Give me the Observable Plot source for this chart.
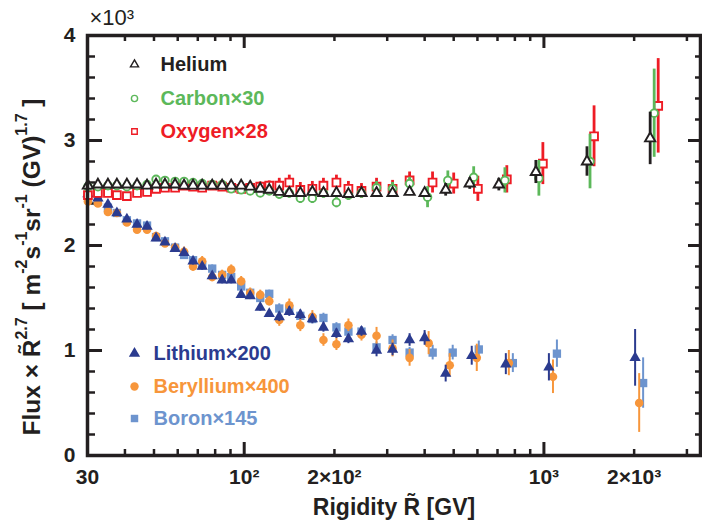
<!DOCTYPE html>
<html><head><meta charset="utf-8">
<script src="https://cdn.jsdelivr.net/npm/d3@7"></script>
<script src="https://cdn.jsdelivr.net/npm/@observablehq/plot@0.6"></script>
<style>body{margin:0;background:#fff}#chart{width:702px;height:524px}</style>
</head><body><div id="chart"></div>
<script>
// ---- data (flux x R^2.7, in units of 10^3) ----
const heR = [30.1,32.5,35.1,37.6,40.6,43.9,47.4,50.8,54.4,58.8,63.0,67.5,72.4,78.2,84.4,90.5,97.7,104.7,113.1,121.2,130.9,141.4,153.9,168.8,183.8,203.1,222.7,246.2,276.4,312.6,356.3,399.9,470.1,565.6,707.2,940,1392,2262];
const heV = [2.57,2.58,2.58,2.58,2.58,2.58,2.57,2.58,2.58,2.58,2.57,2.57,2.57,2.57,2.57,2.57,2.57,2.56,2.54,2.53,2.51,2.50,2.50,2.51,2.50,2.50,2.49,2.50,2.50,2.50,2.51,2.50,2.53,2.59,2.58,2.70,2.80,3.02];
const heE = [0.02,0.02,0.02,0.02,0.02,0.02,0.02,0.02,0.02,0.02,0.025,0.025,0.025,0.025,0.025,0.025,0.025,0.025,0.025,0.025,0.025,0.025,0.03,0.03,0.03,0.03,0.03,0.03,0.035,0.035,0.035,0.04,0.06,0.055,0.06,0.11,0.14,0.25];

const cR = [30.1,32.5,35.1,37.6,40.6,43.9,47.4,50.8,54.4,58.8,63.0,67.5,72.4,78.2,84.4,90.5,97.7,104.7,113.1,121.2,130.9,141.4,153.9,168.8,183.8,203.1,222.7,246.2,276.4,312.6,356.3,409,478,583,741,962,1425,2333];
const cV = [2.56,2.56,2.57,2.57,2.56,2.57,2.58,2.63,2.62,2.61,2.61,2.60,2.59,2.58,2.58,2.54,2.53,2.52,2.50,2.52,2.49,2.50,2.45,2.45,2.50,2.41,2.48,2.50,2.55,2.54,2.59,2.46,2.62,2.65,2.62,2.64,2.80,3.26];
const cE = [0.03,0.03,0.03,0.03,0.03,0.03,0.03,0.03,0.03,0.03,0.035,0.035,0.035,0.035,0.035,0.035,0.035,0.035,0.035,0.035,0.05,0.05,0.05,0.05,0.05,0.05,0.05,0.05,0.06,0.06,0.06,0.10,0.09,0.10,0.12,0.17,0.26,0.42];

const oR = [30.1,32.5,35.1,37.6,40.6,43.9,47.4,50.8,54.4,58.8,63.0,67.5,72.4,78.2,84.4,90.5,97.7,104.7,113.1,121.2,130.9,141.4,153.9,168.8,183.8,203.1,222.7,246.2,276.4,312.6,356.3,425,500,602,752,992,1470,2406];
const oV = [2.48,2.50,2.50,2.48,2.47,2.50,2.51,2.54,2.55,2.55,2.57,2.56,2.55,2.57,2.56,2.55,2.54,2.55,2.56,2.57,2.57,2.60,2.53,2.54,2.57,2.60,2.54,2.52,2.56,2.54,2.62,2.60,2.59,2.54,2.63,2.78,3.04,3.33];
const oE = [0.035,0.035,0.035,0.035,0.035,0.035,0.035,0.035,0.035,0.035,0.045,0.045,0.045,0.045,0.045,0.045,0.045,0.045,0.045,0.045,0.07,0.07,0.07,0.07,0.07,0.07,0.07,0.07,0.08,0.08,0.08,0.10,0.10,0.12,0.13,0.20,0.29,0.45];

const liR = [30.1,32.5,35.1,37.6,40.6,43.9,47.4,50.8,54.4,58.8,63.0,67.5,72.4,78.2,84.4,90.5,97.7,104.7,113.1,121.2,130.9,141.4,153.9,168.8,183.8,203.1,222.7,246.2,276.4,312.6,356.3,399.9,470.1,574.3,746.3,1039,2015];
const liV = [2.49,2.45,2.39,2.31,2.25,2.20,2.18,2.07,2.03,1.97,1.93,1.85,1.80,1.71,1.67,1.67,1.53,1.52,1.41,1.35,1.32,1.37,1.34,1.30,1.22,1.16,1.11,1.18,1.00,1.01,1.10,1.12,0.78,0.95,0.87,0.84,0.93];
const liE = [0.03,0.03,0.03,0.03,0.03,0.03,0.03,0.03,0.03,0.03,0.035,0.035,0.035,0.035,0.035,0.035,0.035,0.035,0.035,0.035,0.045,0.045,0.045,0.045,0.045,0.045,0.045,0.045,0.06,0.06,0.06,0.07,0.08,0.09,0.10,0.13,0.27];

const beR = [30.1,32.5,35.1,37.6,40.6,43.9,47.4,50.8,54.4,58.8,63.0,67.5,72.4,78.2,84.4,90.5,97.7,104.7,113.1,121.2,130.9,141.4,153.9,168.8,183.8,203.1,222.7,246.2,276.4,312.6,356.3,412.4,484.9,597,763.7,1072,2079];
const beV = [2.42,2.40,2.32,2.31,2.22,2.15,2.15,2.09,2.02,1.98,1.94,1.80,1.85,1.70,1.72,1.77,1.66,1.55,1.53,1.47,1.29,1.43,1.24,1.32,1.10,1.06,1.24,1.15,1.14,1.02,0.93,1.07,0.86,0.93,0.88,0.75,0.50];
const beE = [0.035,0.035,0.035,0.035,0.035,0.035,0.035,0.035,0.035,0.035,0.045,0.045,0.045,0.045,0.045,0.045,0.045,0.045,0.045,0.045,0.06,0.06,0.06,0.06,0.06,0.06,0.06,0.06,0.08,0.08,0.08,0.11,0.11,0.13,0.12,0.16,0.28];

const bR = [30.1,32.5,35.1,37.6,40.6,43.9,47.4,50.8,54.4,58.8,63.0,67.5,72.4,78.2,84.4,90.5,97.7,104.7,113.1,121.2,130.9,141.4,153.9,168.8,183.8,203.1,222.7,246.2,276.4,312.6,356.3,425.4,496.2,606.3,787.6,1105,2143];
const bV = [2.48,2.42,2.36,2.31,2.24,2.21,2.19,2.08,2.04,1.98,1.91,1.86,1.81,1.78,1.72,1.70,1.61,1.55,1.50,1.54,1.40,1.39,1.33,1.30,1.31,1.22,1.18,1.18,1.03,1.10,0.98,0.98,0.98,1.01,0.88,0.97,0.69];
const bE = [0.03,0.03,0.03,0.03,0.03,0.03,0.03,0.03,0.03,0.03,0.035,0.035,0.035,0.035,0.035,0.035,0.035,0.035,0.035,0.035,0.045,0.045,0.045,0.045,0.045,0.045,0.045,0.045,0.05,0.05,0.05,0.07,0.07,0.08,0.09,0.13,0.24];

// ---- ticks & labels ----
const xLabelValues = [30, 100, 200, 1000, 2000];
const xLabelTexts = ["30", "10²", "2×10²", "10³", "2×10³"];
const xMajor = [100, 1000];
const xMinor = [30,40,50,60,70,80,90,200,300,400,500,600,700,800,900,2000,3000];
const yMajor = [0, 1, 2, 3, 4];
const yMinor = [0.2,0.4,0.6,0.8,1.2,1.4,1.6,1.8,2.2,2.4,2.6,2.8,3.2,3.4,3.6,3.8];
const legendTop = ["Helium", "Carbon×30", "Oxygen×28"];
const legendBottom = ["Lithium×200", "Beryllium×400", "Boron×145"];

// ---- styles ----
const INK = "#231f20", GREEN = "#5cb85a", RED = "#ee1c25", DBLUE = "#2b3b8f", ORANGE = "#f7963b", LBLUE = "#6d94ce";
const W = 702, H = 524, ML = 87, MR = 2, MT = 35, MB = 69;
const FH = H - MT - MB, FW = W - ML - MR;
const FONT = "Liberation Sans, Arial, Helvetica, sans-serif";

function series(R, V, E, color, symbol, r, hollow, barW) {
  const rows = R.map((x, i) => ({x, y: V[i], lo: V[i] - E[i], hi: V[i] + E[i]}));
  return [
    Plot.ruleX(rows, {x: "x", y1: "lo", y2: "hi", stroke: color, strokeWidth: barW}),
    Plot.dot(rows, {x: "x", y: "y", symbol, r,
      fill: hollow ? "white" : color, stroke: hollow ? color : "none", strokeWidth: hollow ? 1.9 : 0})
  ];
}

const legendSyms = [
  {s: "triangle", c: INK}, {s: "circle", c: GREEN}, {s: "square", c: RED}
];
const legendSymsB = [
  {s: "triangle", c: DBLUE}, {s: "circle", c: ORANGE}, {s: "square", c: LBLUE}
];
const topDy = [29, 63, 96], botDy = [318, 351, 383];

const legendMarks = [];
legendTop.forEach((lab, i) => {
  const st = legendSyms[i];
  legendMarks.push(Plot.dot([lab], {frameAnchor: "top-left", dx: 47, dy: topDy[i], symbol: st.s, r: i === 0 ? 3 : 3.1, fill: "white", stroke: st.c, strokeWidth: 1.4}));
  legendMarks.push(Plot.text([lab], {frameAnchor: "top-left", dx: 73, dy: topDy[i], text: d => d, textAnchor: "start", lineAnchor: "middle", fill: st.c, fontSize: 20, fontWeight: "bold"}));
});
legendBottom.forEach((lab, i) => {
  const st = legendSymsB[i];
  legendMarks.push(Plot.dot([lab], {frameAnchor: "top-left", dx: 47, dy: botDy[i], symbol: st.s, r: 4.2, fill: st.c, stroke: "none"}));
  legendMarks.push(Plot.text([lab], {frameAnchor: "top-left", dx: 66, dy: botDy[i], text: d => d, textAnchor: "start", lineAnchor: "middle", fill: st.c, fontSize: 20, fontWeight: "bold"}));
});

const tickMarks = [
  Plot.tickX(xMajor, {x: d => d, insetTop: FH - 13, stroke: INK, strokeWidth: 3}),
  Plot.tickX(xMajor, {x: d => d, insetBottom: FH - 13, stroke: INK, strokeWidth: 3}),
  Plot.tickX(xMinor, {x: d => d, insetTop: FH - 6, stroke: INK, strokeWidth: 2.5}),
  Plot.tickX(xMinor, {x: d => d, insetBottom: FH - 6, stroke: INK, strokeWidth: 2.5}),
  Plot.tickY(yMajor, {y: d => d, insetRight: FW - 15, stroke: INK, strokeWidth: 3}),
  Plot.tickY(yMajor, {y: d => d, insetLeft: FW - 12, stroke: INK, strokeWidth: 3}),
  Plot.tickY(yMinor, {y: d => d, insetRight: FW - 8, stroke: INK, strokeWidth: 2.5}),
  Plot.tickY(yMinor, {y: d => d, insetLeft: FW - 5, stroke: INK, strokeWidth: 2.5})
];

const chart = Plot.plot({
  width: W, height: H,
  marginLeft: ML, marginRight: MR, marginTop: MT, marginBottom: MB,
  style: {fontFamily: FONT, background: "white", color: INK},
  x: {type: "log", domain: [30, 3330], axis: null},
  y: {domain: [0, 4], axis: null},
  marks: [
    ...tickMarks,
    Plot.axisX({ticks: xLabelValues, tickFormat: d => xLabelTexts[xLabelValues.indexOf(d)], tickSize: 0, tickPadding: 14, fontSize: 21, fontWeight: "bold", fill: INK, label: null}),
    Plot.axisY({ticks: yMajor, tickFormat: d => String(d), tickSize: 0, tickPadding: 12, fontSize: 21, fontWeight: "bold", fill: INK, label: null}),
    ...series(bR, bV, bE, LBLUE, "square", 4.7, false, 2),
    ...series(beR, beV, beE, ORANGE, "circle", 4.3, false, 2),
    ...series(liR, liV, liE, DBLUE, "triangle", 4.2, false, 2),
    ...series(oR, oV, oE, RED, "square", 4.4, true, 2.8),
    ...series(cR, cV, cE, GREEN, "circle", 3.8, true, 2.8),
    ...series(heR, heV, heE, INK, "triangle", 3.8, true, 2.8),
    ...legendMarks,
    Plot.text(["×10³"], {frameAnchor: "top-left", dx: 2, dy: -18, text: d => d, textAnchor: "start", lineAnchor: "middle", fontSize: 22, fill: INK}),
    Plot.text(["Rigidity R̃ [GV]"], {frameAnchor: "bottom", dy: 52, text: d => d, lineAnchor: "middle", fontSize: 23, fontWeight: "bold", fill: INK}),
    Plot.frame({stroke: INK, strokeWidth: 3.5})
  ]
});

// y-axis title with superscripts
const svg = d3.select(chart);
const t = svg.append("text")
  .attr("transform", "translate(31,267) rotate(-90)")
  .attr("text-anchor", "middle").attr("dominant-baseline", "central")
  .attr("font-family", FONT).attr("font-weight", "bold").attr("font-size", 24.5).attr("fill", INK);
const parts = [["Flux × R̃", 0], ["2.7", 1], [" [ m", 0], ["-2", 1], ["s", 0], ["-1", 1], ["sr", 0], ["-1", 1], [" (GV)", 0], ["1.7", 1], [" ]", 0]];
let raised = false;
parts.forEach(([s, sup]) => {
  const ts = t.append("tspan").text(s);
  if (sup) { ts.attr("font-size", 16).attr("dy", raised ? 0 : -10); raised = true; }
  else { ts.attr("dy", raised ? 10 : 0); raised = false; }
});

document.getElementById("chart").appendChild(chart);
</script>
</body></html>
